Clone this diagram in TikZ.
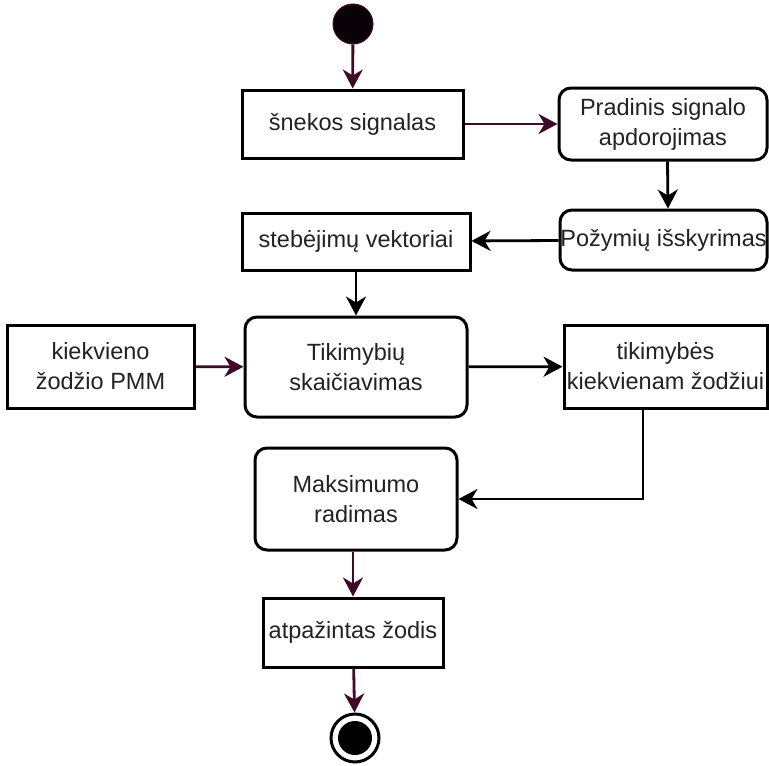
\documentclass[tikz,border=0pt]{standalone}
\usepackage{fontspec}
\setmainfont{Liberation Sans}
\usetikzlibrary{arrows.meta}

\definecolor{maroon}{HTML}{3F0A28}
\definecolor{ink}{HTML}{222222}

\tikzset{
	box/.style = {draw = black, line width = 3pt, inner sep = 0pt, align = center, text = ink, font = \fontsize{23.5}{30}\selectfont},
	act/.style = {box, rounded corners = 12pt},
	flow/.style = {line width = 2.8pt, -{Stealth[length = 19pt, width = 20pt, inset = 6pt]}},
}

\begin{document}
\begin{tikzpicture}[x = 1pt, y = -1pt]

	\useasboundingbox (0, 0) rectangle (769, 766);

	% Start and end
	
	\node (start) [circle, fill = black!85!maroon, draw = maroon, line width = 1pt, minimum size = 40pt, inner sep = 0pt] at (353, 24) {};
	\node (stop) [circle, draw = black, line width = 3pt, minimum size = 48pt, inner sep = 0pt] at (355, 738) {};
	\fill [black] (stop.center) circle (17);
	
	% Boxes
	
	\node (snekos) [box, minimum width = 221pt, minimum height = 68pt] at (352.5, 124) {šnekos signalas};
	\node (pradinis) [act, minimum width = 208pt, minimum height = 72pt] at (663, 124) {Pradinis signalo\\apdorojimas};
	\node (pozymiu) [act, minimum width = 207pt, minimum height = 60pt] at (663.5, 240) {Požymių išskyrimas};
	\node (stebejimu) [box, minimum width = 228pt, minimum height = 57pt] at (356, 241.5) {stebėjimų vektoriai};
	\node (tikimybiu) [act, minimum width = 222pt, minimum height = 100pt] at (356, 367) {Tikimybių\\skaičiavimas};
	\node (pmm) [box, minimum width = 187pt, minimum height = 83pt] at (100.5, 366.5) {kiekvieno\\žodžio PMM};
	\node (tikimybes) [box, minimum width = 203pt, minimum height = 83pt] at (665.5, 366.5) {tikimybės\\kiekvienam žodžiui};
	\node (maksimumo) [act, minimum width = 202pt, minimum height = 102pt] at (356, 499) {Maksimumo\\radimas};
	\node (zodis) [box, minimum width = 180pt, minimum height = 69pt] at (353, 632.5) {atpažintas žodis};
	
	% Arrows
	
	\draw [flow, maroon] (start) -- (snekos);
	\draw [flow, maroon] (snekos) -- (pradinis);
	\draw [flow] ([xshift = 4.5pt] pradinis.south) -- ([xshift = 4.5pt] pozymiu.north);
	\draw [flow] (pozymiu) -- (stebejimu);
	\draw [flow] (stebejimu) -- (stebejimu |- tikimybiu.north);
	\draw [flow, maroon] (pmm) -- (tikimybiu);
	\draw [flow] (tikimybiu) -- (tikimybes);
	\draw [flow] ([xshift = -22.5pt] tikimybes.south) |- (maksimumo.east);
	\draw [flow, maroon] (zodis |- maksimumo.south) -- (zodis);
	\draw [flow, maroon] (zodis) -- (stop);

\end{tikzpicture}
\end{document}
